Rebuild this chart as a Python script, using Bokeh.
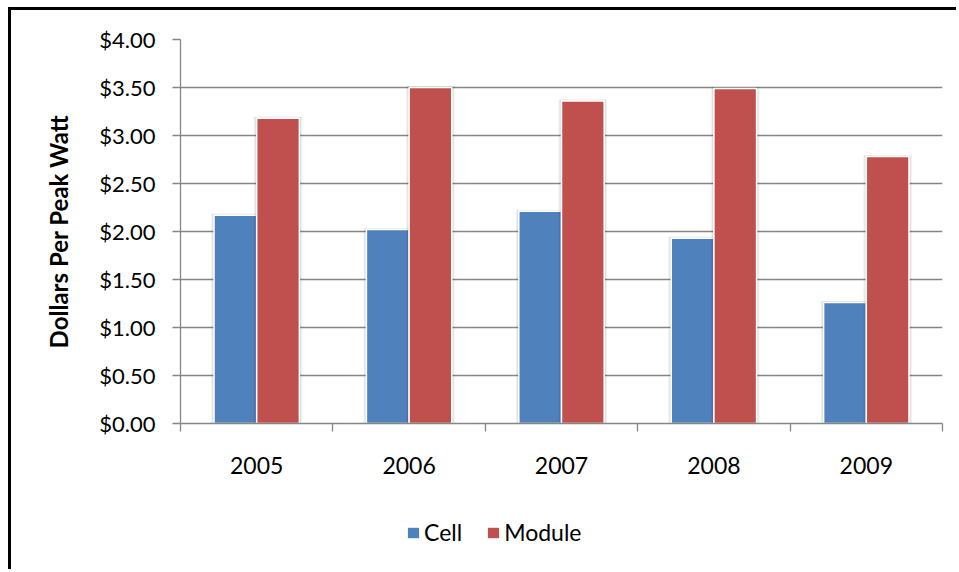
from bokeh.plotting import figure
from bokeh.layouts import column
from bokeh.models import (FixedTicker, NumeralTickFormatter, Legend, LegendItem,
                          ColumnDataSource, Range1d, InlineStyleSheet)
from bokeh.embed import file_html
from bokeh.resources import INLINE

# ---- data ----
years = ["2005", "2006", "2007", "2008", "2009"]
cell = [2.17, 2.02, 2.21, 1.93, 1.26]
module = [3.18, 3.50, 3.36, 3.49, 2.78]
y_ticks = [0.0, 0.5, 1.0, 1.5, 2.0, 2.5, 3.0, 3.5, 4.0]
series_names = ["Cell", "Module"]
series_colors = ["#4F81BD", "#C0504D"]

FONT = "Lato"
BAR_W = 0.28
offsets = [-0.14, 0.14]

centers = [i + 0.5 for i in range(len(years))]
boundaries = [float(i) for i in range(len(years) + 1)]

p = figure(width=948, height=490, output_backend="svg", toolbar_location=None,
           x_range=Range1d(0, len(years)), y_range=Range1d(0, 4),
           min_border_left=169, min_border_right=17, min_border_top=29,
           min_border_bottom=77)
p.outline_line_color = None
p.background_fill_color = "white"
p.border_fill_color = "white"

# grid
p.xgrid.visible = False
p.ygrid.ticker = FixedTicker(ticks=y_ticks)
p.ygrid.grid_line_color = "#868686"
p.ygrid.grid_line_width = 1.3

# y axis
yax = p.yaxis[0]
yax.ticker = FixedTicker(ticks=y_ticks)
yax.formatter = NumeralTickFormatter(format="$0.00")
yax.axis_line_color = "#868686"
yax.axis_line_width = 1.3
yax.major_tick_line_color = "#868686"
yax.major_tick_line_width = 1.3
yax.major_tick_out = 8
yax.major_tick_in = 0
yax.minor_tick_line_color = None
yax.major_label_text_font = FONT
yax.major_label_text_font_size = "22px"
yax.major_label_text_color = "black"
yax.major_label_standoff = 17
yax.axis_label = "Dollars Per Peak Watt"
yax.axis_label_text_font = FONT
yax.axis_label_text_font_style = "bold"
yax.axis_label_text_font_size = "24px"
yax.axis_label_text_color = "black"
yax.axis_label_standoff = 23

# x axis
xax = p.xaxis[0]
xax.ticker = FixedTicker(ticks=centers, minor_ticks=boundaries)
xax.major_label_overrides = {c: y for c, y in zip(centers, years)}
xax.axis_line_color = "#868686"
xax.axis_line_width = 1.3
xax.major_tick_line_color = None
xax.major_tick_out = 0
xax.major_tick_in = 0
xax.minor_tick_line_color = "#868686"
xax.minor_tick_line_width = 1.3
xax.minor_tick_out = 8
xax.minor_tick_in = 0
xax.major_label_text_font = FONT
xax.major_label_text_font_size = "23px"
xax.major_label_text_color = "black"
xax.major_label_standoff = 25

# bars
for name, vals, color, off in zip(series_names, [cell, module], series_colors, offsets):
    xs = [c + off for c in centers]
    src = ColumnDataSource(dict(x=xs, top=vals))
    for extra, alpha in [(0.04, 0.05), (0.025, 0.07)]:
        p.vbar(x="x", top="top", width=BAR_W + extra, bottom=0, source=ColumnDataSource(
            dict(x=xs, top=[v + 0.015 for v in vals])),
            fill_color="black", fill_alpha=alpha, line_color=None)
    p.vbar(x="x", top="top", width=BAR_W, bottom=0, source=src,
           fill_color=color, line_color="white", line_width=1.5)

# legend strip (separate figure below the chart; its frame aligns with the chart's)
lg = figure(width=948, height=72, output_backend="svg", toolbar_location=None,
            x_range=Range1d(0, 1), y_range=Range1d(0, 1),
            x_axis_type=None, y_axis_type=None,
            min_border_left=0, min_border_right=0, min_border_top=0, min_border_bottom=0)
lg.outline_line_color = None
lg.xgrid.visible = False
lg.ygrid.visible = False
legend_renderers = []
for name, color in zip(series_names, series_colors):
    # legend proxy glyphs, kept outside the visible range
    r = lg.vbar(x=[-5], top=[-5], bottom=[-6], width=0.1,
                fill_color=color, line_color=None)
    legend_renderers.append(r)
legend = Legend(items=[LegendItem(label=n, renderers=[r]) for n, r in zip(series_names, legend_renderers)],
                orientation="horizontal", location=(226, 26),
                glyph_width=14, glyph_height=13, label_standoff=4, spacing=24,
                padding=0, margin=0, border_line_color=None, background_fill_alpha=0,
                label_text_font=FONT, label_text_font_size="23px", label_text_color="black")
lg.add_layout(legend, "center")

layout = column(p, lg, spacing=0)
layout.stylesheets = [InlineStyleSheet(css=":host { margin-left: 11px; margin-top: 10px; box-shadow: -3px -3px 0 0 #000; }")]

open("out.html", "w").write(file_html(layout, INLINE))
